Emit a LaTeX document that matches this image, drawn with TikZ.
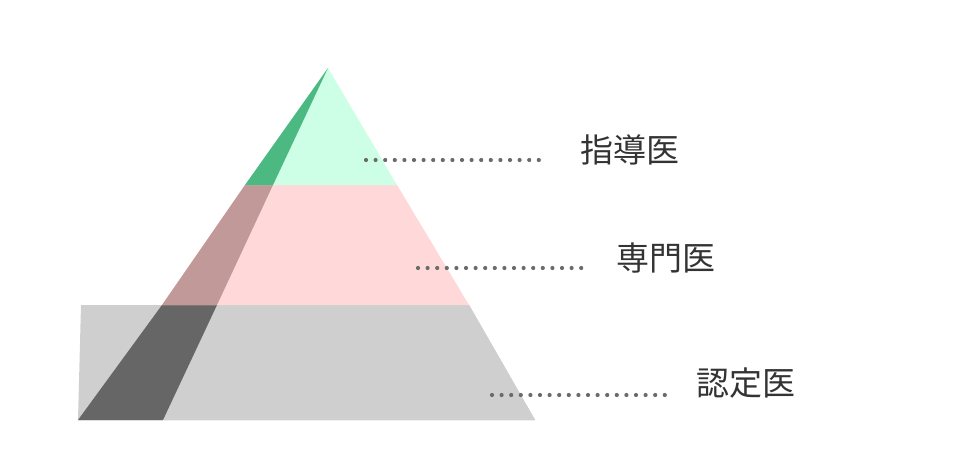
\documentclass[tikz,border=0pt]{standalone}
\usepackage{fontspec}
\newfontfamily\cjk{Noto Sans CJK JP}
\begin{document}
\begin{tikzpicture}[x=1pt,y=-1pt,
  dots/.style={draw=black!58,line width=4.2pt,line cap=round,dash pattern=on 0pt off 9.6pt},
  lbl/.style={font=\cjk\fontsize{33}{36}\selectfont,text=black!80,anchor=west,inner sep=0pt}]
\useasboundingbox (0,0) rectangle (980,450);
\coordinate (A) at (328,68);
\coordinate (L) at (78,420);
\coordinate (R) at (535,420);
\coordinate (S) at (163,420);
% bottom
\fill[fill=black!19] (81+0,305) -- (469,305) -- (R) -- (L) -- cycle;
\fill[fill=black!19] (162,305) -- (469,305) -- (R) -- (L) -- cycle;
\fill[fill=black!19] (162,305) -- (469,305) -- (535,420) -- (78,420) -- cycle;
\fill[fill=black!50!gray!80] (162,305) -- (217,305) -- (S) -- (L) -- cycle;
% middle
\fill[fill=red!15] (245,185) -- (397,185) -- (469,305) -- (162,305) -- cycle;
\fill[fill=red!40!black!40!white] (245,185) -- (273,185) -- (217,305) -- (162,305) -- cycle;
% top
\fill[fill=green!50!cyan!20] (A) -- (397,185) -- (245,185) -- cycle;
\fill[fill=green!50!cyan!60!black!70] (A) -- (273,185) -- (245,185) -- cycle;
\coordinate (d1a) at (366,160); \coordinate (d1b) at (541,160);
\coordinate (d2a) at (418,268); \coordinate (d2b) at (590,268);
\coordinate (d3a) at (492,395); \coordinate (d3b) at (668,395);
\draw[dots] (d1a) -- (d1b);
\draw[dots] (d2a) -- (d2b);
\draw[dots] (d3a) -- (d3b);
\node[lbl] (t1) at (580,150) {指導医};
\node[lbl] (t2) at (616,258) {専門医};
\node[lbl] (t3) at (696,383) {認定医};
\end{tikzpicture}
\end{document}
